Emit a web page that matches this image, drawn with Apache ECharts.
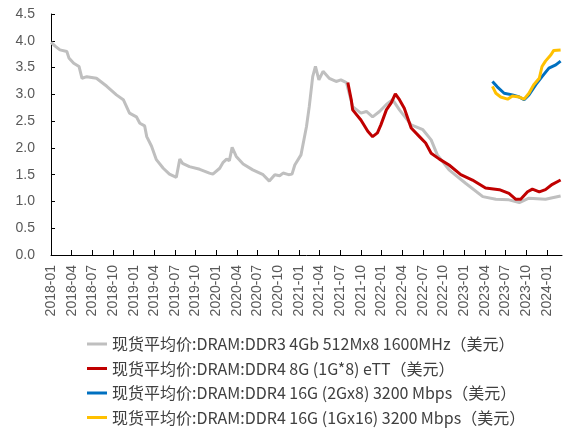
<!DOCTYPE html>
<html>
<head>
<meta charset="utf-8">
<script src="https://cdn.jsdelivr.net/npm/echarts@6/dist/echarts.min.js"></script>
<style>html,body{margin:0;padding:0;background:#fff}#c{width:567px;height:429px}</style>
</head>
<body>
<div id="c"></div>
<script>
const tickLabels = ['2018-01','2018-04','2018-07','2018-10','2019-01','2019-04','2019-07','2019-10','2020-01','2020-04','2020-07','2020-10','2021-01','2021-04','2021-07','2021-10','2022-01','2022-04','2022-07','2022-10','2023-01','2023-04','2023-07','2023-10','2024-01'];

const seriesNames = [
  '现货平均价:DRAM:DDR3 4Gb 512Mx8 1600MHz（美元）',
  '现货平均价:DRAM:DDR4 8G (1G*8) eTT（美元）',
  '现货平均价:DRAM:DDR4 16G (2Gx8) 3200 Mbps（美元）',
  '现货平均价:DRAM:DDR4 16G (1Gx16) 3200 Mbps（美元）'
];

const ddr3Dates = ['2018-01-01','2018-01-19','2018-02-10','2018-03-10','2018-03-19','2018-04-10','2018-05-03','2018-05-16','2018-06-07','2018-07-19','2018-09-04','2018-10-16','2018-11-16','2018-12-13','2019-01-13','2019-01-28','2019-02-19','2019-02-28','2019-03-19','2019-04-10','2019-05-10','2019-06-07','2019-07-07','2019-07-22','2019-08-04','2019-09-04','2019-10-19','2019-12-01','2019-12-16','2020-01-16','2020-02-01','2020-02-16','2020-02-28','2020-03-10','2020-03-28','2020-04-28','2020-06-10','2020-07-25','2020-08-22','2020-09-16','2020-10-07','2020-10-22','2020-11-16','2020-12-01','2020-12-13','2021-01-10','2021-02-04','2021-02-16','2021-03-01','2021-03-13','2021-03-28','2021-04-16','2021-05-13','2021-06-13','2021-07-04','2021-07-28','2021-08-25','2021-10-01','2021-10-25','2021-11-22','2021-12-22','2022-01-22','2022-02-19','2022-03-19','2022-05-10','2022-07-01','2022-08-07','2022-09-04','2022-10-25','2023-01-07','2023-03-22','2023-05-19','2023-07-16','2023-09-01','2023-10-13','2023-12-25','2024-03-01'];
const ddr3Values = [3.97,3.90,3.83,3.80,3.68,3.58,3.52,3.30,3.33,3.30,3.15,2.99,2.90,2.65,2.58,2.46,2.41,2.21,2.03,1.78,1.62,1.51,1.45,1.79,1.71,1.65,1.60,1.53,1.51,1.62,1.73,1.79,1.76,2.01,1.84,1.70,1.59,1.50,1.38,1.50,1.48,1.53,1.50,1.51,1.68,1.87,2.40,2.77,3.33,3.52,3.27,3.43,3.30,3.24,3.27,3.22,2.77,2.65,2.68,2.58,2.68,2.81,2.90,2.71,2.43,2.34,2.15,1.87,1.59,1.34,1.09,1.04,1.03,0.98,1.06,1.04,1.10];

const ddr4eDates = ['2021-08-04','2021-08-19','2021-08-25','2021-10-01','2021-11-01','2021-11-22','2021-12-13','2021-12-28','2022-01-22','2022-02-13','2022-03-01','2022-03-19','2022-04-10','2022-05-10','2022-06-16','2022-07-13','2022-08-07','2022-09-13','2022-10-25','2022-12-16','2023-02-07','2023-04-04','2023-06-04','2023-07-16','2023-08-16','2023-09-07','2023-10-07','2023-10-28','2023-11-28','2023-12-25','2024-01-25','2024-03-01'];
const ddr4eValues = [3.22,2.90,2.71,2.52,2.31,2.21,2.28,2.43,2.71,2.84,3.01,2.90,2.74,2.37,2.21,2.09,1.90,1.79,1.68,1.50,1.40,1.25,1.22,1.15,1.04,1.04,1.18,1.23,1.18,1.22,1.32,1.40];

const ddr4bDates = ['2023-05-04','2023-05-25','2023-06-25','2023-08-01','2023-09-01','2023-09-22','2023-10-13','2023-11-13','2023-12-10','2024-01-10','2024-02-10','2024-03-01'];
const ddr4bValues = [3.24,3.14,3.02,2.99,2.95,2.90,2.99,3.18,3.33,3.49,3.55,3.62];

const ddr4yDates = ['2023-05-04','2023-05-19','2023-06-10','2023-07-10','2023-08-01','2023-09-01','2023-09-22','2023-10-13','2023-11-04','2023-11-28','2023-12-10','2023-12-25','2024-01-19','2024-02-01','2024-03-01'];
const ddr4yValues = [3.15,3.02,2.95,2.91,2.97,2.95,2.91,3.02,3.18,3.30,3.52,3.62,3.74,3.82,3.83];

function monthIndex(s) {
  const p = s.split('-').map(Number);
  return (p[0] - 2018) * 12 + (p[1] - 1) + ((p[2] || 1) - 1) / 30;
}
function zip(d, v) { return d.map((x, i) => [monthIndex(x), v[i]]); }
const tickValues = tickLabels.map(l => monthIndex(l + '-01'));

const colors = ['#BFBFBF', '#C00000', '#0070C0', '#FFC000'];
const datas = [zip(ddr3Dates, ddr3Values), zip(ddr4eDates, ddr4eValues), zip(ddr4bDates, ddr4bValues), zip(ddr4yDates, ddr4yValues)];

const chart = echarts.init(document.getElementById('c'));
chart.setOption({
  animation: false,
  color: colors,
  grid: { left: 51, top: 14, right: 5, bottom: 174, containLabel: false },
  legend: {
    orient: 'vertical', left: 82, top: 331, height: 98, itemGap: 8.5,
    icon: 'rect', itemWidth: 20, itemHeight: 3,
    textStyle: { fontFamily: 'Noto Sans CJK SC', fontSize: 16, color: '#404040' },
    data: seriesNames
  },
  xAxis: {
    type: 'value', min: 0, max: 74.2,
    axisLine: { show: true, lineStyle: { color: '#000', width: 1 } },
    axisTick: { show: true, inside: true, length: 5, lineStyle: { color: '#000' }, customValues: tickValues },
    axisLabel: {
      rotate: 90, customValues: tickValues, margin: 10,
      fontFamily: 'Liberation Sans', fontSize: 14, color: '#595959',
      formatter: v => { const r = Math.round(v); return (2018 + Math.floor(r / 12)) + '-' + String(r % 12 + 1).padStart(2, '0'); }
    },
    splitLine: { show: false }
  },
  yAxis: {
    type: 'value', min: 0, max: 4.5, interval: 0.5,
    axisLine: { show: true, lineStyle: { color: '#000', width: 1 } },
    axisTick: { show: true, inside: true, length: 4, lineStyle: { color: '#000' } },
    axisLabel: { fontFamily: 'Liberation Sans', fontSize: 14, color: '#595959', margin: 16, formatter: v => v.toFixed(1) },
    splitLine: { show: false }
  },
  series: seriesNames.map((n, i) => ({
    name: n, type: 'line', data: datas[i], showSymbol: false, symbol: 'none',
    lineStyle: { width: 3, color: colors[i] }, z: 2 + i
  }))
});
</script>
</body>
</html>
